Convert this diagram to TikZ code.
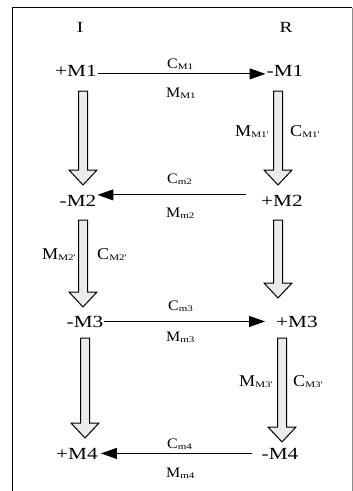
\documentclass[tikz,border=0pt]{standalone}
\usepackage{fontspec}
\setmainfont{Liberation Serif}
\newfontfamily\fmain[FakeStretch=1.25]{Liberation Serif}
\newfontfamily\flab[FakeStretch=1.1]{Liberation Serif}
\newfontfamily\fsub[FakeStretch=1.3]{Liberation Serif}
\usetikzlibrary{arrows.meta}
\newcommand\lsub[1]{\raisebox{-1pt}{\fsub\fontsize{8.5}{9}\selectfont #1}}
\tikzset{
  mainlbl/.style={font=\fmain\fontsize{17}{19}\selectfont, inner sep=1pt, anchor=base},
  headlbl/.style={font=\fmain\fontsize{15.5}{18}\selectfont, inner sep=0pt, anchor=base},
  toplbl/.style={font=\flab\fontsize{14.5}{16}\selectfont, inner sep=0pt, anchor=base west},
  sidelbl/.style={font=\flab\fontsize{16.5}{18}\selectfont, inner sep=0pt, anchor=base west},
  harrow/.style={line width=1pt, -{Triangle[length=16pt,width=11pt]}},
  blockfill/.style={draw=black, line width=1pt, fill=black!8, line join=miter},
  pics/blkarrow/.style={code={
    \draw[blockfill] (-4.5,0) -- (-4.5,#1-15) -- (-14,#1-15) -- (0,#1) -- (14,#1-15) -- (4.5,#1-15) -- (4.5,0) -- cycle;
  }}
}
\begin{document}
\begin{tikzpicture}[x=1pt,y=-1pt]
\useasboundingbox (0,0) rectangle (353,491);
% frame
\draw[line width=1.5pt] (352,7.5) -- (12.5,7.5) -- (12.5,491);
\draw[black!45, line width=1pt] (352,7.5) -- (352,491);
% column heads
\node[headlbl] (hI) at (80,32) {I};
\node[headlbl] (hR) at (286,32) {R};
% main nodes
\node[mainlbl] (p1) at (76,76) {+M1};
\node[mainlbl] (n1) at (285,76) {-M1};
\node[mainlbl] (n2) at (78,206) {-M2};
\node[mainlbl] (p2) at (282,206) {+M2};
\node[mainlbl] (n3) at (85,327) {-M3};
\node[mainlbl] (p3) at (297,327) {+M3};
\node[mainlbl] (p4) at (77,459) {+M4};
\node[mainlbl] (n4) at (280,459) {-M4};
% horizontal arrows
\draw[harrow] ([yshift=-3.5pt]p1.east) -- ([yshift=-3.5pt]n1.west);
\draw[harrow, shorten <=14pt] ([yshift=5.5pt]p2.west) -- ([yshift=5.5pt]n2.east);
\draw[harrow, shorten >=10pt] (n3.east) -- (p3.west);
\draw[harrow, shorten <=9pt, shorten >=2pt] (n4.west) -- (p4.east);
% horizontal labels
\node[toplbl] (c1) at (167,68) {C\lsub{M1}};
\node[toplbl] (m1) at (166,97) {M\lsub{M1}};
\node[toplbl] (c2) at (167,183) {C\lsub{m2}};
\node[toplbl] (m2) at (166,217) {M\lsub{m2}};
\node[toplbl] (c3) at (168,310) {C\lsub{m3}};
\node[toplbl] (m3) at (166,341) {M\lsub{m3}};
\node[toplbl] (c4) at (167,448) {C\lsub{m4}};
\node[toplbl] (m4) at (166,477) {M\lsub{m4}};
% block arrows
\pic at (83,91) {blkarrow=94};
\pic at (278,91) {blkarrow=94};
\pic at (83,220) {blkarrow=87};
\pic at (278,220) {blkarrow=78};
\pic at (85,338) {blkarrow=100};
\pic at (282,338) {blkarrow=104};
% side labels
\node[sidelbl] (sm1) at (235,136) {M\lsub{M1'}};
\node[sidelbl] (sc1) at (290,136) {C\lsub{M1'}};
\node[sidelbl] (sm2) at (42,259) {M\lsub{M2'}};
\node[sidelbl] (sc2) at (97,259) {C\lsub{M2'}};
\node[sidelbl] (sm3) at (239,386) {M\lsub{M3'}};
\node[sidelbl] (sc3) at (293,386) {C\lsub{M3'}};
\end{tikzpicture}
\end{document}
